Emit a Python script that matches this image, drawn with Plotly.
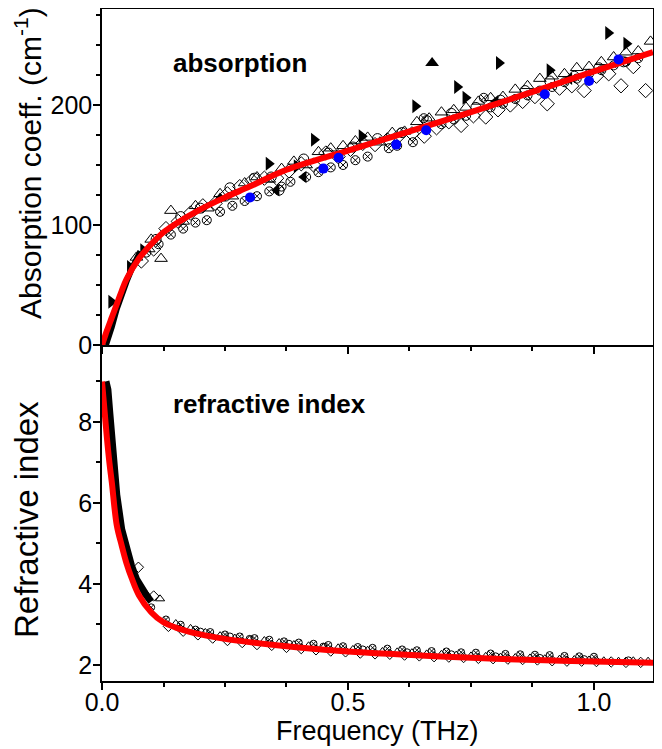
import plotly.graph_objects as go
from plotly.subplots import make_subplots

# ---------------- data: absorption panel ----------------
fit_f = [0.0, 0.005, 0.01, 0.02, 0.03, 0.04, 0.05, 0.075, 0.1, 0.125, 0.15, 0.2, 0.25, 0.3,
         0.375, 0.5, 0.625, 0.75, 0.875, 1.0, 1.12]
fit_abs = [0, 6, 12, 23, 34, 45, 55, 72, 84, 94, 101, 113, 123, 132,
           146, 162, 178, 194, 211, 228, 244]

low_f_abs = [0.008, 0.015, 0.02, 0.03, 0.04, 0.05, 0.06, 0.07, 0.078]
low_abs = [0, 8, 15, 30, 43, 53, 63, 72, 78]

tri_f = [0.07, 0.095, 0.1, 0.12, 0.14, 0.165, 0.19, 0.215, 0.24, 0.265, 0.29, 0.315, 0.34, 0.365,
         0.39, 0.415, 0.44, 0.465, 0.49, 0.515, 0.54, 0.565, 0.59, 0.615, 0.64, 0.665, 0.69,
         0.715, 0.74, 0.765, 0.79, 0.815, 0.84, 0.865, 0.89, 0.915, 0.94, 0.965, 0.99, 1.015,
         1.04, 1.065, 1.09, 1.115]
tri_abs = [73, 80, 88, 72, 112, 103, 116, 114, 126, 124, 135, 140, 138, 147,
           153, 150, 161, 164, 166, 170, 173, 169, 177, 178, 186, 189, 194,
           196, 198, 203, 206, 207, 213, 216, 222, 224, 226, 231, 232, 236,
           240, 244, 245, 253]

dia_f = [0.08, 0.105, 0.13, 0.155, 0.18, 0.205, 0.23, 0.255, 0.28, 0.305, 0.33, 0.355, 0.38,
         0.405, 0.43, 0.455, 0.48, 0.505, 0.53, 0.555, 0.58, 0.605, 0.63, 0.655, 0.68, 0.705,
         0.73, 0.755, 0.78, 0.805, 0.83, 0.855, 0.88, 0.905, 0.93, 0.955, 0.98, 1.005, 1.03,
         1.055, 1.08, 1.105]
dia_abs = [70, 80, 97, 103, 110, 116, 118, 126, 132, 137, 139, 139, 145,
           151, 150, 160, 157, 163, 168, 167, 171, 175, 176, 174, 181, 186,
           183, 191, 190, 196, 200, 203, 207, 201, 214, 216, 212, 224, 226,
           216, 232, 212]

cir_f = [0.11, 0.16, 0.2, 0.26, 0.31, 0.344, 0.36, 0.41, 0.46, 0.51, 0.56, 0.61, 0.66, 0.71,
         0.76, 0.81, 0.86, 0.91, 0.96, 1.01, 1.06]
cir_abs = [88, 107, 114, 131, 139, 140, 129, 155, 160, 165, 172, 177, 187, 193,
           198, 204, 212, 220, 224, 231, 236]

cx_f = [0.09, 0.115, 0.14, 0.165, 0.19, 0.213, 0.24, 0.265, 0.29, 0.315, 0.34, 0.365, 0.383,
        0.415, 0.44, 0.465, 0.49, 0.515, 0.54, 0.583, 0.6, 0.632, 0.654, 0.69, 0.715, 0.74,
        0.776, 0.79, 0.815, 0.84, 0.865, 0.89, 0.915, 0.94, 0.965, 0.99, 1.015, 1.04, 1.065,
        1.09]
cx_abs = [77, 84, 92, 97, 102, 104, 111, 116, 120, 124, 128, 132, 136,
          140, 144, 148, 150, 154, 157, 164, 166, 169, 189, 184, 188, 191,
          206, 198, 201, 205, 208, 212, 215, 219, 222, 226, 229, 233, 236,
          239]

rtri_f = [0.019, 0.057, 0.084, 0.339, 0.396, 0.431, 0.528, 0.637, 0.722, 0.739, 0.807, 0.91,
          1.029, 1.066]
rtri_abs = [36, 65, 79, 151, 149, 171, 174, 199, 215, 206, 235, 229, 260, 251]

utri_f = [0.24, 0.671]
utri_abs = [122, 235]

ltri_f = [0.355, 0.41, 0.8, 0.95]
ltri_abs = [129, 140, 203, 222]

blue_f = [0.301, 0.45, 0.481, 0.598, 0.659, 0.9, 0.99, 1.05]
blue_abs = [123, 147, 156, 167, 179, 209, 220, 238]

# ---------------- data: refractive index panel ----------------
fit_n_f = [0.0, 0.005, 0.01, 0.015, 0.02, 0.03, 0.04, 0.05, 0.06, 0.075, 0.1, 0.125, 0.15, 0.2,
           0.25, 0.3, 0.4, 0.5, 0.6, 0.7, 0.8, 0.9, 1.0, 1.12]
fit_n = [9.0, 8.3, 7.6, 7.0, 6.5, 5.45, 4.95, 4.5, 4.15, 3.72, 3.3, 3.05, 2.92, 2.75,
         2.64, 2.56, 2.43, 2.33, 2.26, 2.2, 2.15, 2.11, 2.08, 2.05]

low_f_n = [0.008, 0.012, 0.016, 0.02, 0.03, 0.04, 0.05, 0.06, 0.07, 0.08, 0.09, 0.1]
low_n = [9.0, 8.8, 8.2, 7.5, 6.2, 5.35, 4.85, 4.45, 4.12, 3.9, 3.72, 3.56]

ntri_f = [0.09, 0.118, 0.15, 0.18, 0.21, 0.24, 0.27, 0.3, 0.33, 0.36, 0.39, 0.42, 0.45, 0.48,
          0.51, 0.54, 0.57, 0.6, 0.63, 0.66, 0.69, 0.72, 0.75, 0.78, 0.81, 0.84, 0.87, 0.9,
          0.93, 0.96, 0.99, 1.02, 1.05, 1.08, 1.11]
ntri = [3.75, 3.63, 3.02, 2.9, 2.8, 2.72, 2.66, 2.62, 2.6, 2.55, 2.5, 2.47, 2.43, 2.42,
        2.38, 2.36, 2.33, 2.32, 2.3, 2.27, 2.26, 2.24, 2.22, 2.21, 2.19, 2.18, 2.17, 2.15,
        2.14, 2.13, 2.12, 2.1, 2.09, 2.1, 2.09]

ndia_f = [0.074, 0.105, 0.135, 0.165, 0.195, 0.225, 0.255, 0.285, 0.315, 0.345, 0.375, 0.405,
          0.435, 0.465, 0.495, 0.525, 0.555, 0.585, 0.615, 0.645, 0.675, 0.705, 0.735, 0.765,
          0.795, 0.825, 0.855, 0.885, 0.915, 0.945, 0.975, 1.005, 1.035, 1.065, 1.095]
ndia = [4.41, 3.7, 2.95, 2.83, 2.74, 2.66, 2.6, 2.55, 2.5, 2.48, 2.43, 2.4,
        2.37, 2.34, 2.32, 2.29, 2.27, 2.26, 2.24, 2.22, 2.2, 2.19, 2.18, 2.16,
        2.15, 2.14, 2.13, 2.12, 2.1, 2.09, 2.09, 2.08, 2.07, 2.06, 2.06]

ncx_f = [0.1, 0.13, 0.16, 0.19, 0.22, 0.25, 0.28, 0.31, 0.34, 0.37, 0.4, 0.43, 0.46, 0.49,
         0.52, 0.55, 0.58, 0.61, 0.64, 0.67, 0.7, 0.73, 0.76, 0.79, 0.82, 0.85, 0.88, 0.91,
         0.94, 0.97, 1.0]
ncx = [3.42, 3.12, 2.99, 2.87, 2.81, 2.75, 2.7, 2.66, 2.62, 2.58, 2.55, 2.52, 2.49, 2.46,
       2.44, 2.42, 2.4, 2.38, 2.36, 2.34, 2.33, 2.31, 2.3, 2.28, 2.27, 2.26, 2.25, 2.24,
       2.22, 2.21, 2.2]

ncir_f = [0.2, 0.26, 0.3, 0.38, 0.45, 0.53, 0.62, 0.71, 0.8, 0.89, 0.98, 1.07]
ncir = [2.82, 2.7, 2.64, 2.52, 2.45, 2.38, 2.31, 2.26, 2.21, 2.17, 2.14, 2.11]

# ---------------- figure ----------------
fig = make_subplots(rows=2, cols=1, shared_xaxes=True, vertical_spacing=0.0)

def scat(x, y, row, symbol, size, color="black", lw=1.0):
    fig.add_trace(go.Scatter(x=x, y=y, mode="markers",
                             marker=dict(symbol=symbol, size=size, color=color,
                                         line=dict(width=lw, color=color)),
                             showlegend=False, cliponaxis=True), row=row, col=1)

# top panel
scat(dia_f, dia_abs, 1, "diamond-open", 11)
scat(tri_f, tri_abs, 1, "triangle-up-open", 11)
scat(cir_f, cir_abs, 1, "circle-open", 10)
scat(cx_f, cx_abs, 1, "circle-x-open", 9)
fig.add_trace(go.Scatter(x=low_f_abs, y=low_abs, mode="lines", line=dict(color="black", width=6),
                         showlegend=False), row=1, col=1)
scat(rtri_f, rtri_abs, 1, "triangle-right", 12, lw=0)
scat(utri_f, utri_abs, 1, "triangle-up", 12, lw=0)
scat(ltri_f, ltri_abs, 1, "triangle-left", 11, lw=0)
fig.add_trace(go.Scatter(x=fit_f, y=fit_abs, mode="lines",
                         line=dict(color="#ff0000", width=6, shape="spline"),
                         showlegend=False), row=1, col=1)
scat(blue_f, blue_abs, 1, "circle", 10, color="#0000ff", lw=0)

# bottom panel
scat(ndia_f, ndia, 2, "diamond-open", 8)
scat(ntri_f, ntri, 2, "triangle-up-open", 8)
scat(ncx_f, ncx, 2, "circle-x-open", 7)
scat(ncir_f, ncir, 2, "circle-open", 7)
fig.add_trace(go.Scatter(x=low_f_n, y=low_n, mode="lines", line=dict(color="black", width=7),
                         showlegend=False), row=2, col=1)
fig.add_trace(go.Scatter(x=fit_n_f, y=fit_n, mode="lines",
                         line=dict(color="#ff0000", width=6, shape="spline"),
                         showlegend=False), row=2, col=1)

font_family = "Arial, Liberation Sans, sans-serif"
axis_common = dict(showline=True, linecolor="black", linewidth=1.5, mirror="ticks",
                   ticks="outside", tickcolor="black", tickwidth=1.5, ticklen=7,
                   showgrid=False, zeroline=False, automargin=False,
                   tickfont=dict(family=font_family, size=25, color="black"))

fig.update_xaxes(**axis_common, range=[0, 1.12], dtick=0.5, tick0=0, tickformat=".1f",
                 ticklabelstandoff=-9,
                 minor=dict(dtick=0.125, ticks="outside", ticklen=4, tickcolor="black", tickwidth=1.5))
fig.update_xaxes(showticklabels=False, row=1, col=1)
fig.update_xaxes(mirror=False, row=2, col=1)

fig.update_yaxes(**axis_common, ticklabelstandoff=-4)
fig.update_yaxes(range=[0, 280], dtick=100, tick0=0,
                 minor=dict(dtick=25, ticks="outside", ticklen=4, tickcolor="black", tickwidth=1.5),
                 row=1, col=1)
fig.update_yaxes(range=[1.6, 9.9], dtick=2, tick0=0,
                 minor=dict(dtick=1, ticks="outside", ticklen=4, tickcolor="black", tickwidth=1.5),
                 row=2, col=1)

# axis titles
fig.add_annotation(text="Frequency (THz)", xref="paper", yref="paper", x=0.5, y=0,
                   xanchor="center", yanchor="middle", yshift=-50, showarrow=False,
                   font=dict(family=font_family, size=27, color="black"))
fig.add_annotation(text="Absorption coeff. (cm<sup>-1</sup>)", xref="paper", yref="paper",
                   x=0, xshift=-74, y=0.771, xanchor="center", yanchor="middle",
                   textangle=-90, showarrow=False,
                   font=dict(family=font_family, size=30, color="black"))
fig.add_annotation(text="Refractive index", xref="paper", yref="paper",
                   x=0, xshift=-75, y=0.2396, xanchor="center", yanchor="middle",
                   textangle=-90, showarrow=False,
                   font=dict(family=font_family, size=33, color="black"))

# panel labels
fig.add_annotation(text="<b>absorption</b>", x=0.14, y=235, xref="x", yref="y", xanchor="left",
                   showarrow=False, font=dict(family=font_family, size=26, color="black"))
fig.add_annotation(text="<b>refractive index</b>", x=0.14, y=8.45, xref="x2", yref="y2",
                   xanchor="left", showarrow=False,
                   font=dict(family=font_family, size=26, color="black"))

# page body has an 8px margin: shrink the figure and shift the margins accordingly
fig.update_layout(width=654, height=741, margin=dict(l=94, r=9, t=1, b=68, autoexpand=False),
                  plot_bgcolor="white", paper_bgcolor="white",
                  font=dict(family=font_family, color="black"))

fig.write_html("out.html")
